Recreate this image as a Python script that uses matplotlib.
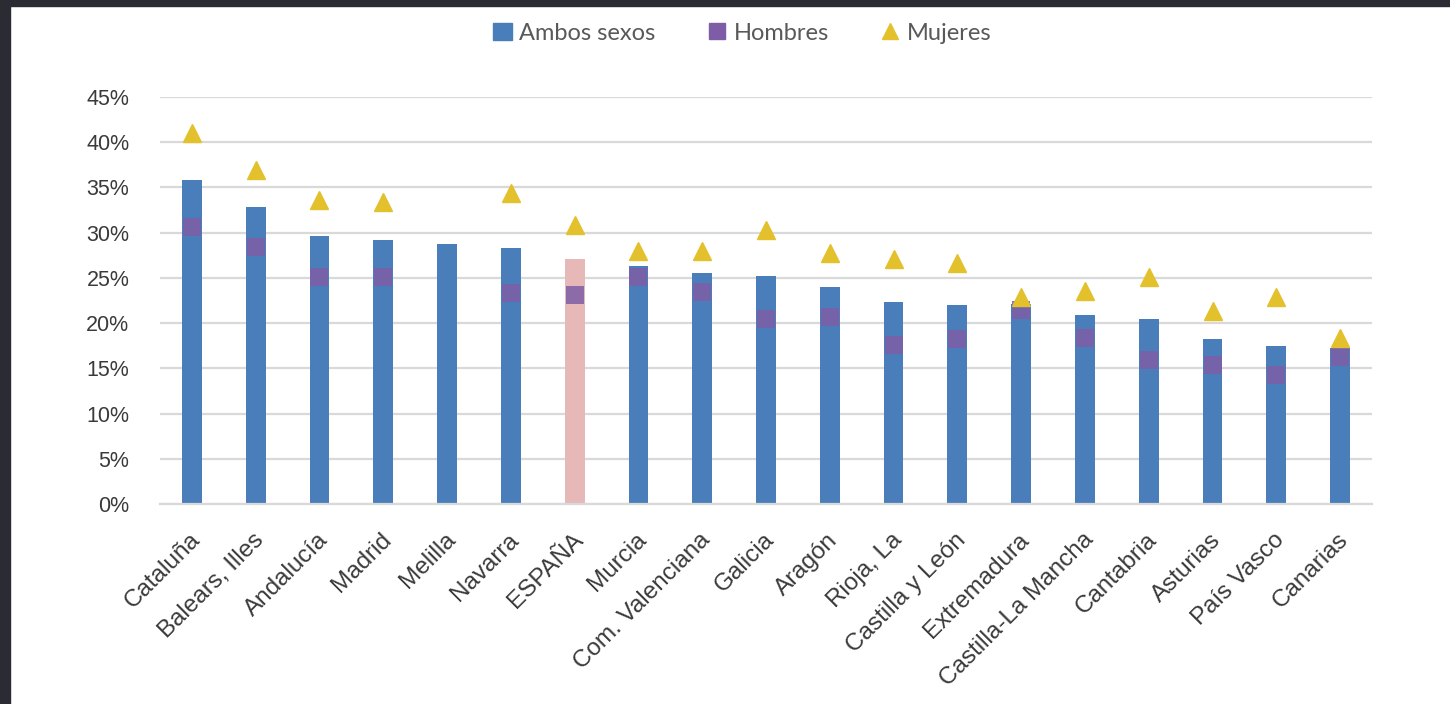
import matplotlib.pyplot as plt
import matplotlib.transforms as mtransforms
from matplotlib.patches import Patch, Rectangle
from matplotlib.lines import Line2D
import numpy as np

# Data
regiones = ['Cataluña', 'Balears, Illes', 'Andalucía', 'Madrid', 'Melilla', 'Navarra',
            'ESPAÑA', 'Murcia', 'Com. Valenciana', 'Galicia', 'Aragón', 'Rioja, La',
            'Castilla y León', 'Extremadura', 'Castilla-La Mancha', 'Cantabria',
            'Asturias', 'País Vasco', 'Canarias']
ambos = [35.8, 32.8, 29.6, 29.2, 28.8, 28.3, 27.1, 26.3, 25.5, 25.2, 24.0, 22.3,
         22.0, 22.1, 20.9, 20.4, 18.2, 17.5, 17.3]
hombres = [30.6, 28.4, 25.1, 25.1, np.nan, 23.3, 23.1, 25.1, 23.4, 20.5, 20.7, 17.6,
           18.2, 21.4, 18.3, 15.9, 15.4, 14.3, 16.2]
mujeres = [41.0, 36.9, 33.6, 33.4, np.nan, 34.4, 30.9, 28.0, 28.0, 30.3, 27.8, 27.1,
           26.6, 22.9, 23.5, 25.1, 21.3, 22.9, 18.4]
yticks = [0, 5, 10, 15, 20, 25, 30, 35, 40, 45]

blue = '#4A7EBB'
pink = '#E6B9B8'
purple = '#7E5DA6'
yellow = '#E3C12C'
grey_txt = '#3A3A3A'

plt.rcParams['font.family'] = ['Liberation Sans', 'DejaVu Sans']

fig = plt.figure(figsize=(14.5, 7.04), dpi=100)
fig.patch.set_facecolor('white')
# dark frame of the screenshot
fig.patches.append(Rectangle((0, 0), 10/1450, 1, transform=fig.transFigure, color='#2B2B33', zorder=10))
fig.patches.append(Rectangle((0, 1-6/704), 1, 6/704, transform=fig.transFigure, color='#2B2B33', zorder=10))

ax = fig.add_axes([160/1450, 1-504/704, (1372-160)/1450, (504-97)/704])
x = np.arange(len(regiones))
colors = [pink if r == 'ESPAÑA' else blue for r in regiones]
ax.bar(x, ambos, width=0.31, color=colors, zorder=2)
ax.plot(x, hombres, 's', color=purple, markersize=13, alpha=0.85, markeredgewidth=0, zorder=3)
ax.plot(x, mujeres, '^', color=yellow, markersize=13, zorder=4)

ax.set_xlim(-0.5, len(regiones)-0.5)
ax.set_ylim(0, 45)
ax.set_yticks(yticks)
ax.set_yticklabels([f'{v}%' for v in yticks], fontsize=15.5, color=grey_txt)
ax.grid(axis='y', color='#D9D9D9', linewidth=1.6, zorder=0)
for s in ['top', 'right', 'left']:
    ax.spines[s].set_visible(False)
ax.spines['bottom'].set_color('#D9D9D9')
ax.spines['bottom'].set_linewidth(1.6)
ax.tick_params(axis='both', length=0)
ax.tick_params(axis='y', pad=22)

ax.set_xticks(x)
ax.set_xticklabels(regiones, rotation=45, ha='right', rotation_mode='anchor',
                   fontsize=17.5, color=grey_txt)
offset = mtransforms.ScaledTranslation(-3/100, -20/100, fig.dpi_scale_trans)
for lbl in ax.get_xticklabels():
    lbl.set_transform(lbl.get_transform() + offset)

handles = [Patch(color=blue, label='Ambos sexos'),
           Line2D([], [], marker='s', color=purple, linestyle='none', markersize=11, label='Hombres'),
           Line2D([], [], marker='^', color=yellow, linestyle='none', markersize=11, label='Mujeres')]
leg = fig.legend(handles=handles, loc='center', bbox_to_anchor=(0.512, 0.953), ncol=3,
                 frameon=False, fontsize=17, handlelength=0.8, handletextpad=0.3,
                 columnspacing=2.2)
for t in leg.get_texts():
    t.set_color('#595959')
    t.set_family(['Lato', 'DejaVu Sans'])

fig.savefig('out.png', dpi=100)
